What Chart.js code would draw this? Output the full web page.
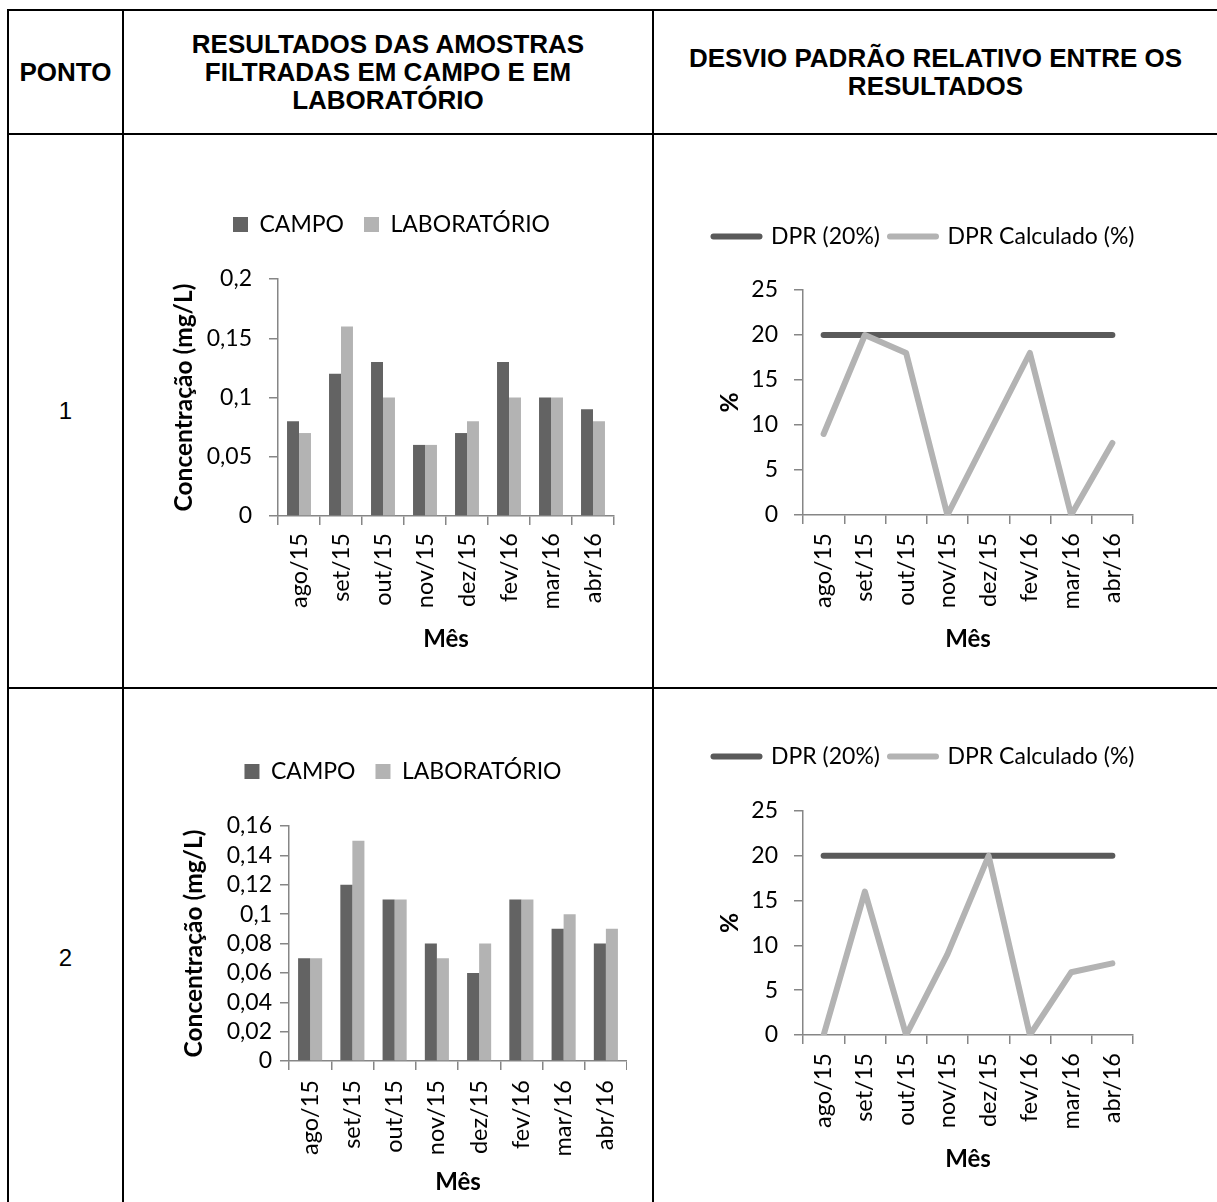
<!DOCTYPE html>
<html>
<head>
<meta charset="utf-8">
<script src="https://cdn.jsdelivr.net/npm/chart.js@4.4.0/dist/chart.umd.min.js"></script>
<style>
  html, body { margin: 0; padding: 0; background: #fff; }
  body { width: 1217px; height: 1202px; position: relative; overflow: hidden; font-family: "Liberation Sans", Arial, sans-serif; color: #000; }
  .hline { position: absolute; left: 7px; right: 0; height: 2px; background: #000; }
  .vline { position: absolute; top: 9px; bottom: 0; width: 2px; background: #000; }
  .head { position: absolute; top: 11px; height: 122px; display: flex; align-items: center; justify-content: center; text-align: center; font-weight: bold; font-size: 26px; line-height: 28px; }
  .num { position: absolute; left: 9px; width: 113px; text-align: center; font-size: 24px; line-height: 30px; }
  canvas { position: absolute; }
</style>
</head>
<body>
<div class="hline" style="top:9px"></div>
<div class="hline" style="top:133px"></div>
<div class="hline" style="top:687px"></div>
<div class="vline" style="left:7px"></div>
<div class="vline" style="left:122px"></div>
<div class="vline" style="left:652px"></div>

<div class="head" style="left:9px;width:113px">PONTO</div>
<div class="head" style="left:124px;width:528px">RESULTADOS DAS AMOSTRAS<br>FILTRADAS EM CAMPO E EM<br>LABORATÓRIO</div>
<div class="head" style="left:654px;width:563px">DESVIO PADRÃO RELATIVO ENTRE OS<br>RESULTADOS</div>

<div class="num" style="top:396px">1</div>
<div class="num" style="top:943px">2</div>

<canvas id="bar1" width="446" height="461" style="left:169px;top:193px"></canvas>
<canvas id="line1" width="480" height="439" style="left:684px;top:215px"></canvas>
<canvas id="bar2" width="448" height="457" style="left:179px;top:740px"></canvas>
<canvas id="line2" width="480" height="439" style="left:684px;top:735px"></canvas>

<script>
// months on the x axis (same for all four charts)
const months = ["ago/15", "set/15", "out/15", "nov/15", "dez/15", "fev/16", "mar/16", "abr/16"];

// ponto 1
const campo1 = [0.08, 0.12, 0.13, 0.06, 0.07, 0.13, 0.10, 0.09];
const lab1 = [0.07, 0.16, 0.10, 0.06, 0.08, 0.10, 0.10, 0.08];
const dprCalc1 = [9, 20, 18, 0, 9, 18, 0, 8];

// ponto 2
const campo2 = [0.07, 0.12, 0.11, 0.08, 0.06, 0.11, 0.09, 0.08];
const lab2 = [0.07, 0.15, 0.11, 0.07, 0.08, 0.11, 0.10, 0.09];
const dprCalc2 = [0, 16, 0, 9, 20, 0, 7, 8];

// limit line
const dprLimit = [20, 20, 20, 20, 20, 20, 20, 20];

const axisColor = "#868686";

Chart.defaults.font.family = "Lato";
Chart.defaults.font.size = 23;
Chart.defaults.color = "#000";

// push the plot down below the legend
function legendSpacer(extra) {
  return {
    id: "legendSpacer",
    beforeInit(chart) {
      const fit = chart.legend.fit;
      chart.legend.fit = function () {
        fit.call(this);
        this.height += extra;
      };
    },
  };
}

const decimal = (v) => String(+Number(v).toFixed(2)).replace(".", ",");

function axisGrid() {
  return { drawOnChartArea: false, drawTicks: true, tickLength: 9, color: axisColor, lineWidth: 1.5 };
}

function xScale(g) {
  return {
    offset: true,
    grid: Object.assign(axisGrid(), { offset: true }),
    border: { color: axisColor, width: 1.5 },
    ticks: { minRotation: 90, maxRotation: 90, autoSkip: false, padding: g.xPad, font: { size: 23.5 } },
    title: { display: true, text: "Mês", font: { size: 24, weight: "bold" }, padding: 0 },
    afterFit: (s) => {
      s.height = g.xHeight;
      s.paddingLeft = 0;
      s.paddingRight = 0;
    },
  };
}

function yTitle(text, shift) {
  return { display: true, text: text, font: { size: 24.5, weight: "bold" }, padding: { top: shift || 0, bottom: 0 } };
}

function barChart(id, campo, lab, yMax, yStep, g) {
  return new Chart(document.getElementById(id), {
    type: "bar",
    plugins: [legendSpacer(g.extra)],
    data: {
      labels: months,
      datasets: [
        { label: "CAMPO", data: campo, backgroundColor: "#636363", borderWidth: 0, categoryPercentage: 0.57, barPercentage: 1 },
        { label: "LABORATÓRIO", data: lab, backgroundColor: "#b3b3b3", borderWidth: 0, categoryPercentage: 0.57, barPercentage: 1 },
      ],
    },
    options: {
      responsive: false,
      animation: false,
      layout: { padding: { left: 0, right: g.padRight, top: 0, bottom: 0 } },
      plugins: {
        tooltip: { enabled: false },
        legend: { position: "top", labels: { boxWidth: 15, boxHeight: 15, padding: 20 } },
      },
      scales: {
        x: xScale(g),
        y: {
          min: 0,
          max: yMax,
          grid: axisGrid(),
          border: { color: axisColor, width: 1.5 },
          ticks: { stepSize: yStep, padding: g.yPad, autoSkip: false, callback: (v) => decimal(v) },
          title: yTitle("Concentração (mg/L)"),
          afterFit: (s) => { s.width = g.yWidth; },
        },
      },
    },
  });
}

function lineChart(id, calc, g) {
  return new Chart(document.getElementById(id), {
    type: "line",
    plugins: [legendSpacer(g.extra)],
    data: {
      labels: months,
      datasets: [
        { label: "DPR (20%)", data: dprLimit, borderColor: "#5a5a5a", backgroundColor: "#5a5a5a", borderWidth: 6, pointRadius: 0, borderCapStyle: "round", borderJoinStyle: "round", order: 1 },
        { label: "DPR Calculado (%)", data: calc, borderColor: "#b3b3b3", backgroundColor: "#b3b3b3", borderWidth: 6, pointRadius: 0, borderCapStyle: "round", borderJoinStyle: "round", order: 0 },
      ],
    },
    options: {
      responsive: false,
      animation: false,
      layout: { padding: 0 },
      plugins: {
        tooltip: { enabled: false },
        legend: {
          position: "top",
          labels: {
            usePointStyle: true,
            pointStyle: "line",
            pointStyleWidth: 46,
            padding: 10,
            sort: (a, b) => a.datasetIndex - b.datasetIndex,
            generateLabels: (chart) => {
              const items = Chart.defaults.plugins.legend.labels.generateLabels(chart);
              items.forEach((it) => { it.lineCap = "round"; });
              return items;
            },
          },
        },
      },
      scales: {
        x: xScale(g),
        y: {
          min: 0,
          max: 25,
          grid: axisGrid(),
          border: { color: axisColor, width: 1.5 },
          ticks: { stepSize: 5, padding: g.yPad, autoSkip: false },
          title: yTitle("%", g.titleShift),
          afterFit: (s) => { s.width = g.yWidth; },
        },
        // empty right-hand box so the plot stops short of the legend's width
        gap: {
          position: "right",
          grid: { display: false },
          border: { display: false },
          ticks: { display: false },
          afterFit: (s) => { s.width = g.rightGap; },
        },
      },
    },
  });
}

barChart("bar1", campo1, lab1, 0.2, 0.05, { extra: 33, padRight: 1, yWidth: 109, xHeight: 138, yPad: 17, xPad: 8 });
lineChart("line1", dprCalc1, { extra: 32, yWidth: 119, titleShift: 31, rightGap: 31, xHeight: 139, yPad: 16, xPad: 9 });
barChart("bar2", campo2, lab2, 0.16, 0.02, { extra: 33, padRight: 0, yWidth: 110, xHeight: 136, yPad: 8, xPad: 10 });
lineChart("line2", dprCalc2, { extra: 33, yWidth: 119, titleShift: 31, rightGap: 31, xHeight: 139, yPad: 16, xPad: 9 });
</script>
</body>
</html>
